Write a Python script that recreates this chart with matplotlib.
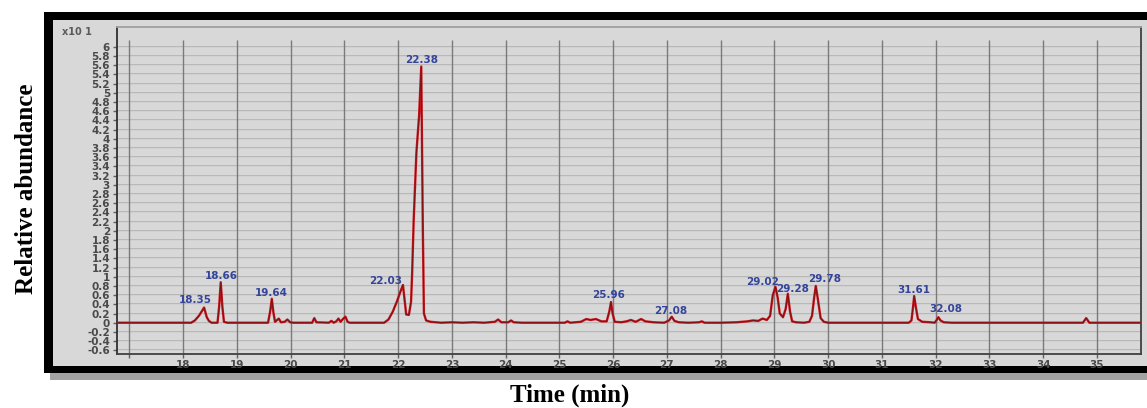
import matplotlib
matplotlib.use("Agg")
import matplotlib.pyplot as plt
from matplotlib.patches import Rectangle
import numpy as np

# chromatogram trace (time in min, abundance x10)
rt_min = [16.77, 18.15, 18.22, 18.30, 18.39, 18.44, 18.48, 18.53,
          18.64, 18.67, 18.70, 18.73, 18.76, 18.82,
          19.58, 19.62, 19.65, 19.68, 19.71, 19.75, 19.78, 19.82, 19.89, 19.94, 19.99, 20.05,
          20.40, 20.44, 20.48,
          20.71, 20.76, 20.80, 20.85, 20.89, 20.93, 20.98, 21.02, 21.06, 21.10,
          21.74, 21.82, 21.90, 21.98, 22.05, 22.09, 22.12, 22.15, 22.20, 22.24, 22.26,
          22.29, 22.34, 22.39, 22.43, 22.46, 22.48, 22.52, 22.60,
          22.80, 23.00, 23.20, 23.40, 23.60, 23.80, 23.86, 23.92, 24.05, 24.10, 24.15,
          24.30, 24.60, 24.90, 25.10, 25.15, 25.20, 25.40, 25.50, 25.58, 25.68, 25.78,
          25.88, 25.93, 25.96, 25.99, 26.03, 26.15, 26.25, 26.33, 26.42, 26.52, 26.60,
          26.75, 26.95, 27.04, 27.09, 27.14, 27.22, 27.40, 27.60, 27.65, 27.70,
          28.00, 28.30, 28.50, 28.60, 28.70, 28.78, 28.86, 28.92, 28.97, 29.02, 29.06,
          29.10, 29.16, 29.21, 29.25, 29.29, 29.33, 29.40, 29.55, 29.65, 29.70, 29.74,
          29.77, 29.81, 29.86, 29.92, 30.00, 30.50, 31.00, 31.50, 31.55, 31.58, 31.60,
          31.63, 31.67, 31.75, 31.90, 31.98, 32.02, 32.05, 32.09, 32.15, 32.30,
          33.00, 34.00, 34.74, 34.80, 34.86, 35.82]
abundance = [0.0, 0.0, 0.05, 0.16, 0.33, 0.12, 0.04, 0.0,
             0.0, 0.35, 0.88, 0.35, 0.02, 0.0,
             0.0, 0.25, 0.52, 0.22, 0.02, 0.06, 0.09, 0.01, 0.02, 0.07, 0.01, 0.0,
             0.0, 0.10, 0.01,
             0.0, 0.04, 0.0, 0.03, 0.09, 0.02, 0.09, 0.13, 0.02, 0.0,
             0.0, 0.07, 0.24, 0.47, 0.70, 0.82, 0.50, 0.18, 0.17, 0.45, 1.05,
             2.25, 3.70, 4.50, 5.57, 2.00, 0.20, 0.05, 0.02,
             0.0, 0.01, 0.0, 0.01, 0.0, 0.02, 0.07, 0.01, 0.01, 0.05, 0.01,
             0.0, 0.0, 0.0, 0.0, 0.03, 0.0, 0.02, 0.08, 0.06, 0.08, 0.03,
             0.03, 0.25, 0.45, 0.20, 0.02, 0.01, 0.03, 0.06, 0.02, 0.08, 0.03,
             0.01, 0.0, 0.05, 0.13, 0.04, 0.01, 0.0, 0.01, 0.03, 0.0,
             0.0, 0.01, 0.03, 0.05, 0.04, 0.09, 0.06, 0.15, 0.60, 0.78, 0.55,
             0.20, 0.12, 0.30, 0.63, 0.25, 0.03, 0.01, 0.0, 0.02, 0.15, 0.55,
             0.80, 0.50, 0.10, 0.02, 0.0, 0.0, 0.0, 0.0, 0.05, 0.35, 0.58,
             0.35, 0.08, 0.02, 0.01, 0.0, 0.06, 0.12, 0.05, 0.01, 0.0,
             0.0, 0.0, 0.0, 0.10, 0.0, 0.0]

peak_labels = ["18.35", "18.66", "19.64", "22.03", "22.38", "25.96",
               "27.08", "29.02", "29.28", "29.78", "31.61", "32.08"]
# label nudges in pixels (dx, dy above apex)
label_dx = [-9, 1, 0, -17, 0, -2, -1, -13, 5, 9, 0, 7]
label_dy = [8, 6, 6, 4, 7, 7, 6, 5, 5, 7, 6, 8]

x_ticks = list(range(17, 36))
x_ticklabels = ["", "18", "19", "20", "21", "22", "23", "24", "25", "26", "27",
                "28", "29", "30", "31", "32", "33", "34", "35"]
y_ticks = np.round(np.arange(-0.6, 6.01, 0.2), 1)

W, H = 1147, 408
fig = plt.figure(figsize=(W / 100, H / 100), dpi=100)

def box(x0, y0, x1, y1, color, z):
    # pixel box (top-left origin) -> figure rectangle
    r = Rectangle((x0 / W, 1 - y1 / H), (x1 - x0) / W, (y1 - y0) / H,
                  transform=fig.transFigure, facecolor=color, edgecolor="none", zorder=z)
    fig.add_artist(r)

box(50, 20, 1170, 380, "#a3a3a3", -3)
box(44, 12, 1170, 373, "black", -2)
box(53, 20, 1170, 366, "#d8d8d8", -1)

ax = fig.add_axes([117 / W, 1 - 354 / H, (1141 - 117) / W, (354 - 27) / H])
ax.set_facecolor("#d8d8d8")
ax.set_xlim(16.77, 35.82)
ax.set_ylim(-0.68, 6.43)

for yv in y_ticks:
    ax.axhline(yv, color="#b8b8b8", lw=1.4, zorder=1)
    ax.axhline(yv, color="#e6e6e6", lw=0.4, zorder=1)
ax.vlines(x_ticks, -0.68, 6.15, color="#7a7a7a", lw=1.0, zorder=1)

t = np.array(rt_min)
a = np.array(abundance)
ax.plot(t, a, color="#c8161d", lw=1.7, zorder=3)
ax.plot(t, a, color="#3a1010", lw=0.6, alpha=0.6, zorder=4)

for lab, dx, dy in zip(peak_labels, label_dx, label_dy):
    rt = float(lab)
    win = np.abs(t - rt) <= 0.08
    i = np.where(win)[0][np.argmax(a[win])]
    ax.annotate(lab, (t[i], a[i]), xytext=(dx, dy), textcoords="offset pixels",
                ha="center", va="center", fontsize=7.5, fontweight="bold",
                color="#34449a", zorder=5)

ax.set_xticks(x_ticks)
ax.set_xticklabels(x_ticklabels)
ax.set_yticks(y_ticks)
ax.set_yticklabels(["%g" % v for v in y_ticks])
ax.tick_params(axis="both", labelsize=7.5, labelcolor="#4a4a4a", color="#606060",
               length=3, width=1, pad=2)
ax.tick_params(axis="x", pad=1)
for lbl in ax.get_xticklabels() + ax.get_yticklabels():
    lbl.set_fontweight("bold")

ax.spines["left"].set_color("#303030")
ax.spines["bottom"].set_color("#404040")
ax.spines["right"].set_color("#404040")
ax.spines["top"].set_color("#a0a0a0")
for s in ax.spines.values():
    s.set_linewidth(1.3)

fig.text(62 / W, 1 - 32 / H, "x10 1", fontsize=7, fontweight="bold",
         color="#5a5a5a", ha="left", va="center")

fig.text(27 / W, 1 - 189 / H, "Relative abundance", rotation=90,
         family="Liberation Serif", fontweight="bold", fontsize=18,
         ha="center", va="center")
fig.text(570 / W, 1 - 395 / H, "Time (min)", family="Liberation Serif",
         fontweight="bold", fontsize=18, ha="center", va="center")

fig.savefig("out.png", dpi=100)
